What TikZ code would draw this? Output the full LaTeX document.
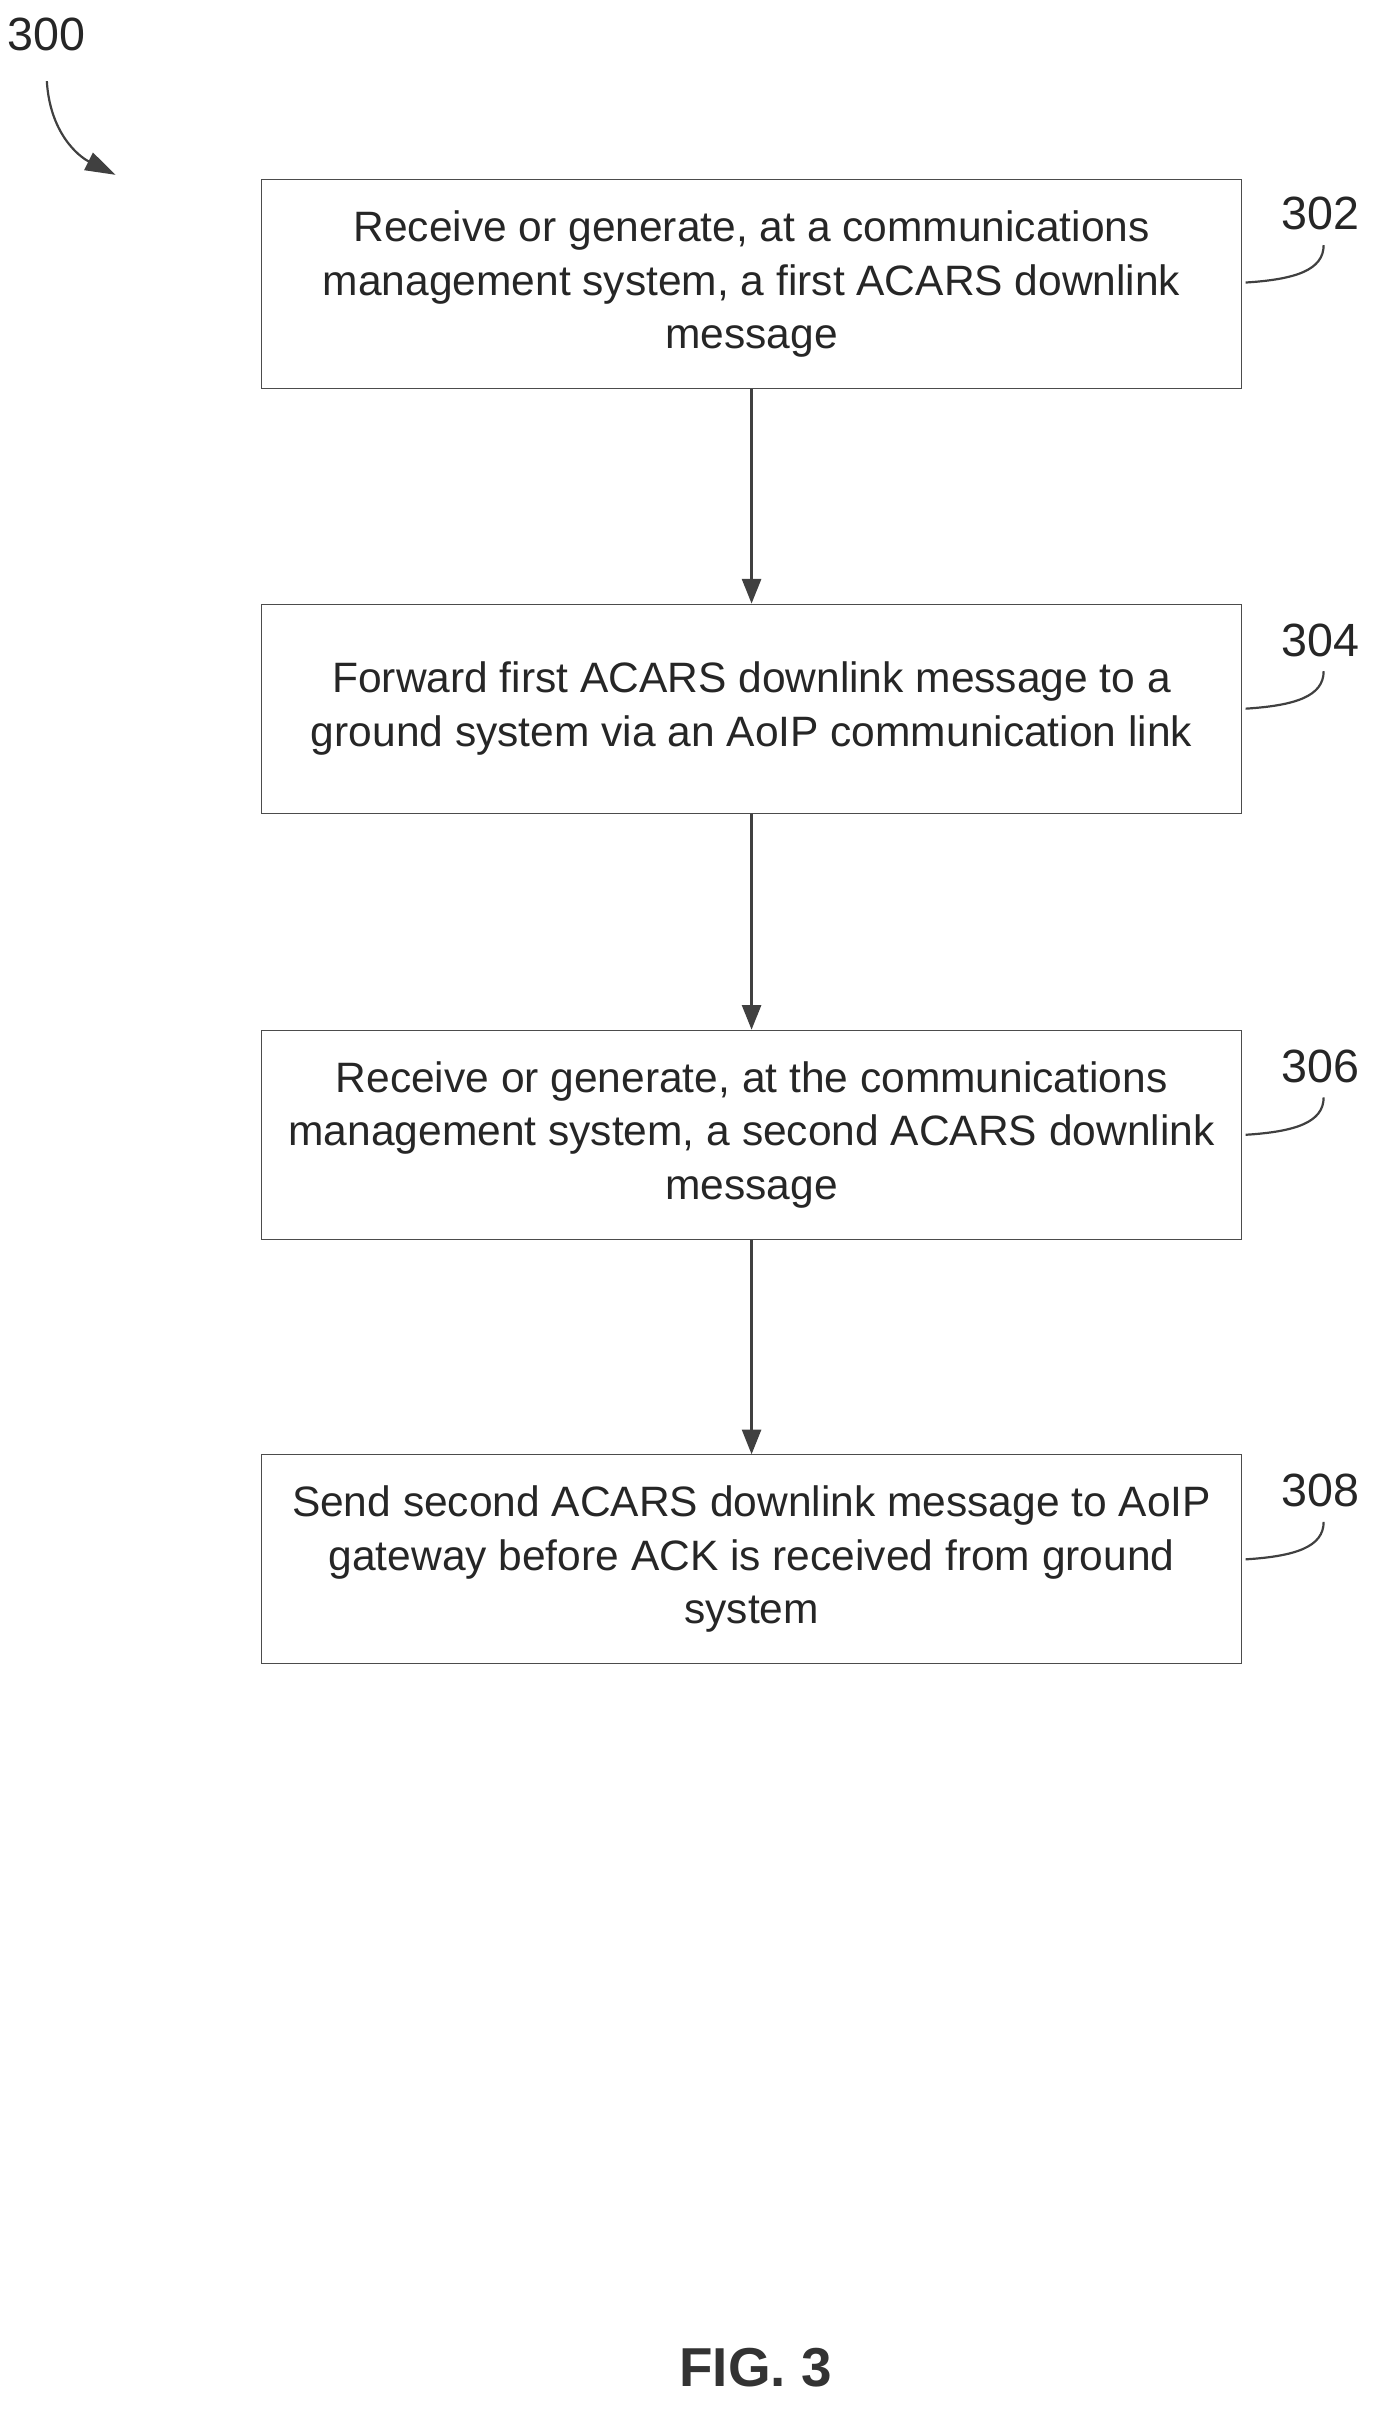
\documentclass[tikz,border=0pt]{standalone}
\usepackage{fontspec}
\setmainfont{Liberation Sans}
\usetikzlibrary{positioning,arrows.meta}
\begin{document}
\begin{tikzpicture}[x=0.02cm,y=-0.02cm,
stepbox/.style={draw=black!70, minimum width=12.56cm, minimum height=2.68cm,
  align=center, font=\fontsize{15.5}{19.5}\selectfont, text=black!85},
flow/.style={-{Triangle[width=7pt,length=9pt]}, draw=black!75, thick},
tag/.style={font=\fontsize{17}{20}\selectfont, text=black!85}
]
\useasboundingbox (0,0) rectangle (880,1560);

\node[tag] (n300) at (30,22) {300};
\draw[-{Triangle[width=7pt,length=11pt]}, black!75, thick] (30,52) .. controls (32,85) and (50,100) .. (74,112);

\node[stepbox] (s302) at (481.5,182) {Receive or generate, at a communications\\management system, a first ACARS downlink\\message};
\node[stepbox] (s304) at (481.5,454) {Forward first ACARS downlink message to a\\ground system via an AoIP communication link};
\node[stepbox] (s306) at (481.5,727) {Receive or generate, at the communications\\management system, a second ACARS downlink\\message};
\node[stepbox] (s308) at (481.5,999) {Send second ACARS downlink message to AoIP\\gateway before ACK is received from ground\\system};

\foreach \Num/\Y in {302/137,304/410,306/683,308/955}{
  \node[tag] (t\Num) at (846,\Y) {\Num};
  \draw[black!75, thick] (798,\Y+44) .. controls (830,\Y+42) and (848,\Y+36) .. (848,\Y+20);
}

\draw[flow] (s302) -- (s304);
\draw[flow] (s304) -- (s306);
\draw[flow] (s306) -- (s308);

\node[font=\bfseries\fontsize{20}{24}\selectfont, text=black!80] (fig) at (484,1517) {FIG. 3};
\end{tikzpicture}
\end{document}
